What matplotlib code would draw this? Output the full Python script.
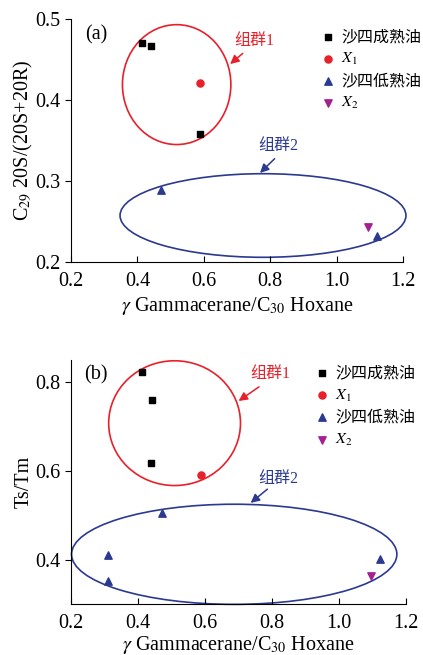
import matplotlib
matplotlib.use("Agg")
import matplotlib.pyplot as plt
from matplotlib.patches import Ellipse

plt.rcParams['font.family'] = ['Liberation Serif', 'Noto Sans CJK SC']
plt.rcParams['mathtext.fontset'] = 'stix'

RED = '#e8202a'
BLUE = '#2b3990'
MAG = '#a3228f'

# panel (a) data
a_mature_x = [0.414, 0.440, 0.589]
a_mature_y = [0.470, 0.467, 0.358]
a_x1_x = [0.589]
a_x1_y = [0.421]
a_low_x = [0.471, 1.120]
a_low_y = [0.2885, 0.232]
a_x2_x = [1.094]
a_x2_y = [0.2436]

# panel (b) data
b_mature_x = [0.413, 0.441, 0.438]
b_mature_y = [0.8226, 0.760, 0.617]
b_x1_x = [0.589]
b_x1_y = [0.591]
b_low_x = [0.471, 0.311, 0.311, 1.121]
b_low_y = [0.505, 0.410, 0.351, 0.401]
b_x2_x = [1.095]
b_x2_y = [0.364]

labels = ['沙四成熟油', '$\\mathit{X}_1$', '沙四低熟油', '$\\mathit{X}_2$']
xlabel = r'$\gamma$' + ' Gammacerane/C$_{30}$ Hoxane'
FS = 14.5


def arrow(ax, tip, tail, color):
    ax.annotate('', xy=tip, xytext=tail,
                arrowprops=dict(arrowstyle='-|>', color=color, lw=1.1,
                                mutation_scale=13, shrinkA=0, shrinkB=0))


def draw(ax, mx, my, x1x, x1y, lx, ly, x2x, x2y):
    ax.scatter(mx, my, marker='s', s=24, c='black', label=labels[0], zorder=3)
    ax.scatter(x1x, x1y, marker='o', s=26, c=RED, label=labels[1], zorder=3)
    ax.scatter(lx, ly, marker='^', s=28, c=BLUE, label=labels[2], zorder=3)
    ax.scatter(x2x, x2y, marker='v', s=28, c=MAG, label=labels[3], zorder=3)
    for s in ['top', 'right']:
        ax.spines[s].set_visible(False)
    ax.set_xlim(0.2, 1.2)
    ax.set_xticks([0.2, 0.4, 0.6, 0.8, 1.0, 1.2])
    ax.set_xticklabels(['0.2', '0.4', '0.6', '0.8', '1.0', '1.2'])
    ax.tick_params(axis='x', direction='in', length=4, labelsize=FS, pad=7)
    ax.tick_params(axis='y', direction='out', length=4, labelsize=FS)


fig = plt.figure(figsize=(4.23, 6.55), dpi=100)
axa = fig.add_axes([0.168, 0.600, 0.785, 0.371])
axb = fig.add_axes([0.168, 0.078, 0.792, 0.372])

draw(axa, a_mature_x, a_mature_y, a_x1_x, a_x1_y, a_low_x, a_low_y, a_x2_x, a_x2_y)
axa.set_ylim(0.2, 0.5)
axa.set_yticks([0.2, 0.3, 0.4, 0.5])
axa.set_xlabel(xlabel, fontsize=FS, labelpad=3)
axa.set_ylabel('C$_{29}$ 20S/(20S+20R)', fontsize=FS, labelpad=0)
axa.add_patch(Ellipse((0.518, 0.419), 0.3265, 0.148, fill=False, ec=RED, lw=1.2, clip_on=False))
axa.add_patch(Ellipse((0.778, 0.2574), 0.861, 0.1032, fill=False, ec=BLUE, lw=1.2, clip_on=False))
axa.text(0.275, 0.480, '(a)', fontsize=FS, ha='center', va='center')
axa.text(0.751, 0.473, '组群1', color=RED, fontsize=11.5, ha='center', va='center')
arrow(axa, (0.679, 0.4444), (0.717, 0.4575), RED)
axa.text(0.824, 0.343, '组群2', color=BLUE, fontsize=11.5, ha='center', va='center')
arrow(axa, (0.769, 0.310), (0.813, 0.3275), BLUE)
axa.legend(loc='upper left', bbox_to_anchor=(0.725, 0.985), frameon=False, fontsize=11.5,
           handletextpad=0.25, labelspacing=0.38, borderaxespad=0, handlelength=1.2)

draw(axb, b_mature_x, b_mature_y, b_x1_x, b_x1_y, b_low_x, b_low_y, b_x2_x, b_x2_y)
axb.set_ylim(0.3, 0.85)
axb.set_yticks([0.4, 0.6, 0.8])
axb.set_xlabel(xlabel, fontsize=FS, labelpad=1)
axb.set_ylabel('Ts/Tm', fontsize=FS, labelpad=1)
axb.add_patch(Ellipse((0.509, 0.708), 0.3935, 0.2816, fill=False, ec=RED, lw=1.2, clip_on=False))
axb.add_patch(Ellipse((0.687, 0.412), 0.971, 0.226, fill=False, ec=BLUE, lw=1.2, clip_on=False))
axb.text(0.274, 0.818, '(b)', fontsize=FS, ha='center', va='center')
axb.text(0.796, 0.820, '组群1', color=RED, fontsize=11.5, ha='center', va='center')
arrow(axb, (0.700, 0.758), (0.761, 0.790), RED)
axb.text(0.819, 0.581, '组群2', color=BLUE, fontsize=11.5, ha='center', va='center')
arrow(axb, (0.736, 0.528), (0.786, 0.559), BLUE)
axb.legend(loc='upper left', bbox_to_anchor=(0.70, 1.005), frameon=False, fontsize=11.5,
           handletextpad=0.25, labelspacing=0.38, borderaxespad=0, handlelength=1.2)

fig.savefig('out.png', dpi=100)
